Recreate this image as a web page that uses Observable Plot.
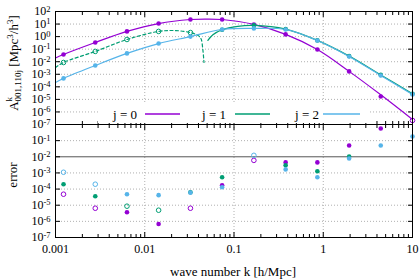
<!DOCTYPE html>
<html><head><meta charset="utf-8">
<script src="https://cdn.jsdelivr.net/npm/d3@7"></script>
<script src="https://cdn.jsdelivr.net/npm/@observablehq/plot@0.6"></script>
<style>
body{margin:0;background:#fff;}
#c{position:relative;width:420px;height:280px;overflow:hidden;font-family:"Liberation Serif",serif;}
#c svg{position:absolute;left:0;}
</style></head><body><div id="c"></div>
<script>
// sample wave numbers (markers)
const kSample = [0.00123,0.00279,0.00632,0.0143,0.0325,0.0736,0.167,0.379,0.859,1.95,4.41,10];
// top panel markers (signed: negative -> open circle, plotted as |value|)
const mark0 = [0.038,0.34,2.6,11,23,23,9.3,1.5,0.093,1.7e-3,1.7e-5,-2.1e-7];
const mark1 = [-8.7e-3,-0.066,-0.59,-2.6,-2.1,3.5,7.8,4.0,0.5,0.028,8.9e-4,2.8e-5];
const mark2 = [4.7e-4,5e-3,0.046,0.28,1.0,3.7,4.5,3.7,0.49,0.026,7.9e-4,2.5e-5];
// bottom panel errors (signed: negative -> open circle)
const err0 = [-4.8e-5,-6.5e-6,3.7e-6,6.8e-7,-6.5e-6,1.7e-4,-6.0e-3,4.5e-3,4.5e-3,0.05,0.56,null];
const err1 = [2.0e-4,3.6e-5,-8.7e-6,-4.9e-6,6.3e-5,5.4e-4,null,3.0e-3,1.26e-3,0.0105,null,null];
const err2 = [-1.1e-3,-2.0e-4,4.8e-5,4.2e-5,6.0e-5,1.3e-4,-0.0123,1.66e-3,5.4e-4,7.9e-3,0.05,0.18];
// exact curves (signed: negative -> dashed, plotted as |value|)
const line0K = [0.001,0.00123,0.00279,0.00632,0.0143,0.0325,0.048,0.0736,0.167,0.379,0.859,1.95,4.41,10];
const line0  = [0.02,0.038,0.34,2.6,11,23,25,23,9.3,1.5,0.093,1.7e-3,2.3e-5,2.5e-7];
const line1K = [0.001,0.00123,0.00279,0.00632,0.0143,0.0224,0.0325,0.0393,0.0426,0.0447,0.0461,0.0510,0.058,0.0736,0.11,0.167,0.379,0.859,1.95,4.41,10];
const line1  = [-3.5e-3,-8.7e-3,-0.066,-0.59,-2.6,-3.0,-2.1,-1.26,-0.7,-0.1,-8.7e-3,0.5,1.4,3.5,6.6,7.8,4.0,0.5,0.028,8.9e-4,2.8e-5];
const line2K = [0.001,0.00123,0.00279,0.00632,0.0143,0.0325,0.0736,0.167,0.379,0.859,1.95,4.41,10];
const line2  = [2.2e-4,4.7e-4,5e-3,0.046,0.28,1.0,3.7,4.5,3.7,0.49,0.026,7.9e-4,2.5e-5];
const legendLabels = ["j = 0","j = 1","j = 2"];
const xTicks = [0.001,0.01,0.1,1,10];

const colors = ["#9400d3","#009e73","#56b4e9"];
const W = 420, ML = 55, MR = 8;
const font = "'Liberation Serif', serif";
const ns = "http://www.w3.org/2000/svg";
const xMinor = [];
for (let e = -3; e < 1; e++) for (let m = 2; m < 10; m++) xMinor.push(m * 10 ** e);

const rows = (ks, vs, j) => ks.map((k, i) => ({k, v: vs[i], a: vs[i] == null ? null : Math.abs(vs[i]), open: vs[i] < 0, j})).filter(d => d.v != null);

const gridStyle = {stroke: "#b0b0b0", strokeOpacity: 1, strokeDasharray: "1,2", strokeWidth: 1};

function frameAxes(yMajor, yLabels, withXLabels) {
  return [
    Plot.frame({stroke: "black", strokeWidth: 1}),
    Plot.axisX(xTicks, {anchor: "bottom", tickSize: -5, tickFormat: () => "", label: null}),
    Plot.axisX(xMinor, {anchor: "bottom", tickSize: -3, tickFormat: () => "", label: null}),
    Plot.axisX(xTicks, {anchor: "top", tickSize: -5, tickFormat: () => "", label: null}),
    Plot.axisX(xMinor, {anchor: "top", tickSize: -3, tickFormat: () => "", label: null}),
    Plot.axisY(yMajor, {anchor: "left", tickSize: -5, tickFormat: () => "", label: null}),
    Plot.axisY(yMajor, {anchor: "right", tickSize: -5, tickFormat: () => "", label: null}),
    Plot.axisY(yLabels, {anchor: "left", tickSize: 0, tickPadding: 5, tickFormat: d => String(Math.round(Math.log10(d))), label: null}),
    ...(withXLabels ? [Plot.axisX(xTicks, {anchor: "bottom", tickSize: 0, tickPadding: 7, tickFormat: d => String(d), label: null})] : [])
  ];
}

function dotMarks(data) {
  const out = [];
  for (let j = 0; j < 3; j++) {
    out.push(Plot.dot(data.filter(d => d.j === j && !d.open), {x: "k", y: "a", r: 2.3, fill: colors[j], stroke: "none"}));
    out.push(Plot.dot(data.filter(d => d.j === j && d.open), {x: "k", y: "a", r: 2.3, fill: "none", stroke: colors[j], strokeWidth: 1}));
  }
  return out;
}

const topDots = [...rows(kSample, mark0, 0), ...rows(kSample, mark1, 1), ...rows(kSample, mark2, 2)];
const l0 = rows(line0K, line0, 0), l1 = rows(line1K, line1, 1), l2 = rows(line2K, line2, 2);
const decTop = d3.range(-7, 3).map(e => 10 ** e);

const topPlot = Plot.plot({
  width: W, height: 125, marginTop: 11, marginBottom: 1, marginLeft: ML, marginRight: MR,
  style: {fontFamily: font, fontSize: "12px", overflow: "visible", background: "transparent", color: "black"},
  x: {type: "log", domain: [0.001, 10]},
  y: {type: "log", domain: [1e-7, 1e2]},
  marks: [
    Plot.gridY(decTop.slice(1, -1), gridStyle),
    Plot.gridX([0.01, 0.1, 1], gridStyle),
    Plot.line(l0, {x: "k", y: "a", stroke: colors[0], strokeWidth: 1.2, curve: "catmull-rom"}),
    Plot.line(l1.filter(d => d.open), {x: "k", y: "a", stroke: colors[1], strokeWidth: 1.2, strokeDasharray: "3,2.5", curve: "catmull-rom"}),
    Plot.line(l1.filter(d => !d.open), {x: "k", y: "a", stroke: colors[1], strokeWidth: 1.2, curve: "catmull-rom"}),
    Plot.line(l2, {x: "k", y: "a", stroke: colors[2], strokeWidth: 1.2, curve: "catmull-rom"}),
    ...dotMarks(topDots),
    ...frameAxes(decTop, decTop, false)
  ]
});

const errDots = [...rows(kSample, err0, 0), ...rows(kSample, err1, 1), ...rows(kSample, err2, 2)];
const decBot = d3.range(-7, 1).map(e => 10 ** e);

const botPlot = Plot.plot({
  width: W, height: 157, marginTop: 1, marginBottom: 43, marginLeft: ML, marginRight: MR,
  style: {fontFamily: font, fontSize: "12px", overflow: "visible", background: "transparent", color: "black"},
  x: {type: "log", domain: [0.001, 10]},
  y: {type: "log", domain: [1e-7, 1]},
  marks: [
    Plot.gridY(decBot.slice(1, -1).filter(v => v !== 1e-2), gridStyle),
    Plot.gridX([0.01, 0.1, 1], gridStyle),
    Plot.ruleY([1e-2], {stroke: "#555", strokeWidth: 1}),
    ...dotMarks(errDots),
    ...frameAxes(decBot, decBot.slice(0, -1), true)
  ]
});

function supTicks(svg) {
  svg.querySelectorAll('g[aria-label="y-axis tick label"] text').forEach(t => {
    const e = t.textContent;
    if (!e) return;
    t.textContent = "";
    const a = document.createElementNS(ns, "tspan"); a.textContent = "10"; t.appendChild(a);
    const b = document.createElementNS(ns, "tspan"); b.textContent = e;
    b.setAttribute("dy", "-0.42em"); b.setAttribute("font-size", "8.5px"); t.appendChild(b);
  });
}
supTicks(topPlot); supTicks(botPlot);

const c = document.getElementById("c");
topPlot.style.top = "0px";
botPlot.style.top = "123px";
c.appendChild(botPlot);
c.appendChild(topPlot);

// legend (key box inside top panel)
const st = d3.select(topPlot);
const lg = st.append("g").attr("font-family", font).attr("font-size", 13);
lg.append("rect").attr("x", 98).attr("y", 103).attr("width", 270).attr("height", 20).attr("fill", "white");
const textRight = [137, 226, 319], lineX = [[145, 180], [235, 270], [323, 360]];
legendLabels.forEach((lab, i) => {
  lg.append("text").attr("x", textRight[i]).attr("y", 118.5).attr("text-anchor", "end").text(lab);
  lg.append("line").attr("x1", lineX[i][0]).attr("x2", lineX[i][1]).attr("y1", 114).attr("y2", 114)
    .attr("stroke", colors[i]).attr("stroke-width", 1.5);
});

// axis titles
const yl = st.append("text").attr("transform", "translate(18,63) rotate(-90)").attr("text-anchor", "middle")
  .attr("font-family", font).attr("font-size", 13);
yl.append("tspan").text("A");
yl.append("tspan").attr("font-size", 9).attr("dy", -6).text("k");
yl.append("tspan").attr("font-size", 9).attr("dx", -4.5).attr("dy", 9).text("001,110j");
yl.append("tspan").attr("dy", -3).text(" [Mpc");
yl.append("tspan").attr("font-size", 9).attr("dy", -5).text("3");
yl.append("tspan").attr("dy", 5).text("/h");
yl.append("tspan").attr("font-size", 9).attr("dy", -5).text("3");
yl.append("tspan").attr("dy", 5).text("]");

const sb = d3.select(botPlot);
sb.append("text").attr("transform", "translate(17,52) rotate(-90)").attr("text-anchor", "middle")
  .attr("font-family", font).attr("font-size", 13).text("error");
sb.append("text").attr("x", 233).attr("y", 153).attr("text-anchor", "middle")
  .attr("font-family", font).attr("font-size", 13).text("wave number k [h/Mpc]");
</script></body></html>
